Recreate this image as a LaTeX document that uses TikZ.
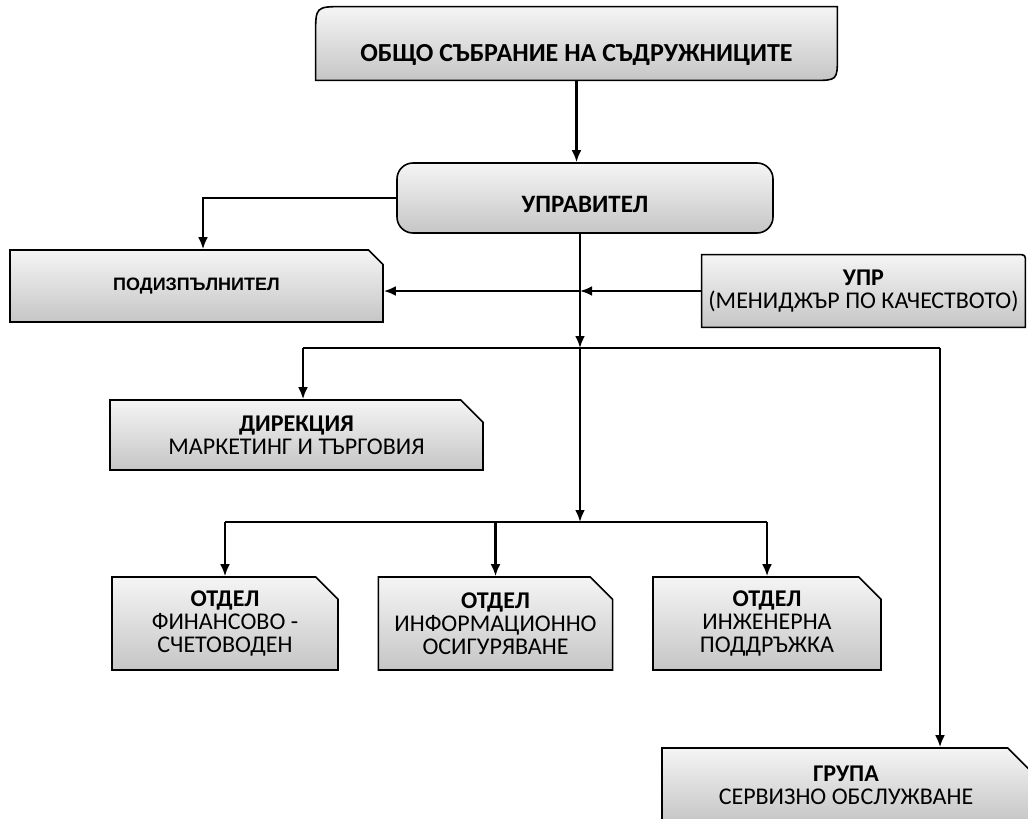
\documentclass[tikz,border=0pt]{standalone}
\usepackage{fontspec}
\setmainfont{Carlito}
\newfontfamily\arialfont{Liberation Sans}
\usetikzlibrary{arrows.meta,shapes.misc,backgrounds}
\newcommand{\hd}[1]{{\bfseries #1}}
\tikzset{
  grayfill/.style={top color=gray!8, bottom color=gray!45},
  boxline/.style={draw, line width=.8pt},
  snipbox/.style={chamfered rectangle, chamfered rectangle corners=north east,
    chamfered rectangle xsep=8pt, boxline, grayfill, align=center, inner sep=0pt,
    font=\fontsize{12}{11.5}\selectfont},
  arr/.style={-{Latex[length=6pt,width=5pt]}, line width=1.3pt},
  conn/.style={line width=1pt}
}

\begin{document}
\begin{tikzpicture}[x=0.5pt, y=-0.5pt]
    \useasboundingbox (0,0) rectangle (1028,819);
    % boxes
    \node[minimum width=260.5pt, minimum height=36.5pt, inner sep=0pt, text height=18pt, text depth=0pt,
        font=\fontsize{13}{15}\selectfont\bfseries] (sabranie) at (576.5,43.5) {ОБЩО СЪБРАНИЕ НА СЪДРУЖНИЦИТЕ};
    \node[boxline, grayfill, rounded corners=8pt, minimum width=188pt, minimum height=35pt, inner sep=0pt,
        text height=14pt, text depth=0pt, font=\fontsize{12.5}{15}\selectfont\bfseries] (upravitel) at (585,198) {УПРАВИТЕЛ};
    \node[snipbox, minimum width=186.5pt, minimum height=36pt, font=\arialfont\fontsize{9}{10}\selectfont\bfseries]
        (podizp) at (196.5,286) {ПОДИЗПЪЛНИТЕЛ};
    \node[minimum width=161.5pt, minimum height=36pt, inner sep=0pt, align=center,
        font=\fontsize{12}{11.5}\selectfont] (upr) at (863.5,291) {\hd{УПР}\\(МЕНИДЖЪР ПО КАЧЕСТВОТО)};
    \node[snipbox, minimum width=186.5pt, minimum height=35pt] (direkcia) at (296.5,435)
        {\hd{ДИРЕКЦИЯ}\\МАРКЕТИНГ И ТЪРГОВИЯ};
    \node[snipbox, minimum width=113pt, minimum height=46.5pt] (otdelfin) at (225,623.5)
        {\hd{ОТДЕЛ}\\ФИНАНСОВО -\\СЧЕТОВОДЕН};
    \node[snipbox, minimum width=113pt, minimum height=46.5pt] (otdelinfo) at (495.5,623.5)
        {\hd{ОТДЕЛ}\\ИНФОРМАЦИОННО\\ОСИГУРЯВАНЕ};
    \node[snipbox, minimum width=114pt, minimum height=46.5pt] (otdeling) at (767,623.5)
        {\hd{ОТДЕЛ}\\ИНЖЕНЕРНА\\ПОДДРЪЖКА};
    \node[snipbox, minimum width=184pt, minimum height=37pt] (grupa) at (846,785)
        {\hd{ГРУПА}\\СЕРВИЗНО ОБСЛУЖВАНЕ};
    \begin{scope}[on background layer]
        \path[boxline, grayfill] ([xshift=14pt]sabranie.north west) -- (sabranie.north east)
            -- ([yshift=12pt]sabranie.south east) .. controls (sabranie.south east) .. ([xshift=-12pt]sabranie.south east)
            -- (sabranie.south west) -- ([yshift=-14pt]sabranie.north west)
            .. controls (sabranie.north west) .. ([xshift=14pt]sabranie.north west) -- cycle;
        \path[boxline, grayfill] (upr.north west) -- ([xshift=-4pt]upr.north east)
            .. controls (upr.north east) .. ([yshift=-4pt]upr.north east)
            -- (upr.south east) -- (upr.south west) -- cycle;
    \end{scope}
    % connectors
    \coordinate (j1) at (580,291);
    \coordinate (j2) at (580,348);
    \coordinate (j3) at (580,522);
    \coordinate (dk) at (303,348);
    \coordinate (gr) at (940,348);
    \draw[arr] (sabranie.south) -- (sabranie.south |- upravitel.north);
    \draw[arr] (upravitel.west) -| ([xshift=3.25pt]podizp.north);
    \draw[arr] (j1 |- upravitel.south) -- (j2);
    \draw[arr] (upr.west) -- (upr.west -| j1);
    \draw[arr] (upr.west -| j1) -- (upr.west -| podizp.east);
    \draw[conn] (dk) -- (gr);
    \draw[arr] (dk) -- (dk |- direkcia.north);
    \draw[arr] (gr) -- (gr |- grupa.north);
    \draw[arr] (j2) -- (j3);
    \draw[conn] (j3 -| otdelfin) -- (j3 -| otdeling);
    \foreach \n in {otdelfin,otdelinfo,otdeling}
        \draw[arr] (j3 -| \n) -- (\n.north);
\end{tikzpicture}
\end{document}
